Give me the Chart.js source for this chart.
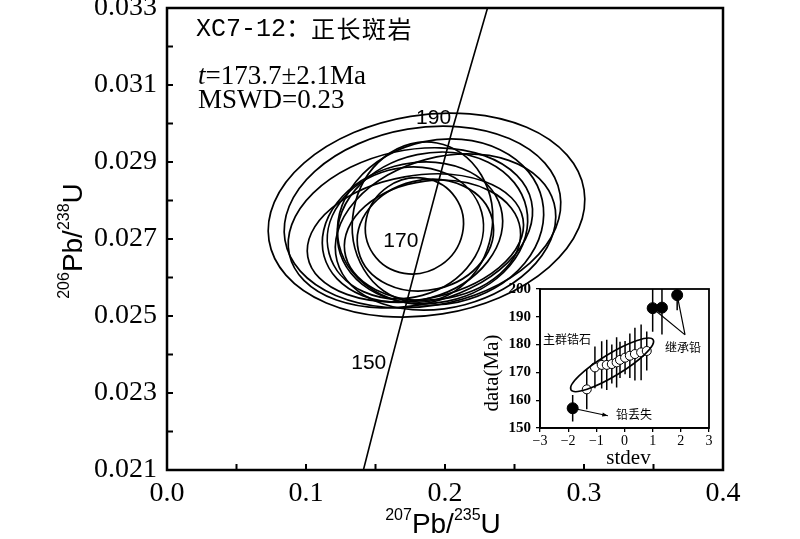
<!DOCTYPE html>
<html>
<head>
<meta charset="utf-8">
<script src="https://cdn.jsdelivr.net/npm/chart.js@4.4.1/dist/chart.umd.min.js"></script>
<style>
  html, body { margin: 0; padding: 0; background: #fff; }
  #wrap { position: relative; width: 800px; height: 539px; }
  #main { position: absolute; left: 0; top: 0; }
  #inset { position: absolute; left: 470px; top: 270px; }
</style>
</head>
<body>
<div id="wrap">
  <canvas id="main" width="800" height="539" style="width:800px;height:539px"></canvas>
  <canvas id="inset" width="250" height="205" style="width:250px;height:205px"></canvas>
</div>
<script>
// main concordia plot
const xTicks = [0.0, 0.1, 0.2, 0.3, 0.4];
const xMinorTicks = [0.05, 0.15, 0.25, 0.35];
const yTicks = [0.021, 0.023, 0.025, 0.027, 0.029, 0.031, 0.033];
const yMinorTicks = [0.022, 0.024, 0.026, 0.028, 0.030, 0.032];

// error ellipses: 207Pb/235U, sigma, 206Pb/238U, sigma, rho
const ellX    = [0.1867, 0.1838, 0.1968, 0.1751, 0.1910, 0.1766, 0.1715, 0.1838, 0.1780, 0.1859, 0.1910, 0.1787, 0.2004];
const ellSigX = [0.1139, 0.0995, 0.0742, 0.0879, 0.0685, 0.0649, 0.0562, 0.0505, 0.0353, 0.0490, 0.0634, 0.0778, 0.0793];
const ellY    = [0.02762, 0.02757, 0.02744, 0.02729, 0.02729, 0.02718, 0.02716, 0.02744, 0.02734, 0.02710, 0.02697, 0.02703, 0.02718];
const ellSigY = [0.00265, 0.00236, 0.00216, 0.00208, 0.00197, 0.00182, 0.00171, 0.00208, 0.00125, 0.00145, 0.00156, 0.00166, 0.00203];
const ellRho  = [0.15, 0.15, 0.10, 0.20, 0.10, 0.15, 0.10, 0.05, 0.05, 0.10, 0.10, 0.20, 0.20];

// concordia curve
const concordiaX = [0.1413, 0.1592, 0.1823, 0.2058, 0.2306];
const concordiaY = [0.0210, 0.02354, 0.02672, 0.02991, 0.0330];
const ageLabels = ['150', '170', '190'];
const ageX = [0.1592, 0.1823, 0.2058];
const ageY = [0.02354, 0.02672, 0.02991];

// inset: age vs stdev
const insetXTicks = [-3, -2, -1, 0, 1, 2, 3];
const insetYTicks = [150, 160, 170, 180, 190, 200];
const mainX   = [-1.34, -1.05, -0.81, -0.63, -0.45, -0.28, -0.16, 0.02, 0.19, 0.37, 0.59, 0.79];
const mainAge = [163.9, 171.8, 172.7, 172.7, 173.0, 173.6, 174.5, 175.3, 176.0, 176.6, 177.2, 177.7];
const mainErr = [7.2, 7.5, 8.5, 9.0, 7.0, 9.0, 6.5, 6.0, 8.0, 9.5, 10.0, 7.0];
const outX   = [-1.84, 1.00, 1.33, 1.87];
const outAge = [157.1, 193.1, 193.3, 197.8];
const outErr = [4.8, 8.5, 9.7, 5.4];
const groupEllipseX = [-1.90, 1.02];
const groupEllipseAge = [163.7, 181.7];

const SERIF = '"Liberation Serif", "Times New Roman", serif';
const SANS = '"Liberation Sans", Arial, sans-serif';
const CJK = '"Noto Sans CJK SC", sans-serif';

function noPad(s) {
  s.paddingTop = 0;
  s.paddingBottom = 0;
  s.paddingLeft = 0;
  s.paddingRight = 0;
}

function drawSupText(ctx, parts, x, y, size, supSize) {
  const widths = parts.map((p) => {
    ctx.font = `${p.sup ? supSize : size}px ${SANS}`;
    return ctx.measureText(p.t).width;
  });
  let cur = x - widths.reduce((s, w) => s + w, 0) / 2;
  ctx.textAlign = 'left';
  ctx.textBaseline = 'alphabetic';
  parts.forEach((p, i) => {
    ctx.font = `${p.sup ? supSize : size}px ${SANS}`;
    ctx.fillText(p.t, cur, p.sup ? y - size * 0.45 : y);
    cur += widths[i];
  });
}

function ellipsePath(ctx, cx, cy, a, b, r) {
  const c = r * a * b;
  const mean = (a * a + b * b) / 2;
  const diff = (a * a - b * b) / 2;
  const root = Math.sqrt(diff * diff + c * c);
  const theta = 0.5 * Math.atan2(2 * c, a * a - b * b);
  ctx.ellipse(cx, cy, Math.sqrt(mean + root), Math.sqrt(Math.max(mean - root, 0.5)), theta, 0, Math.PI * 2);
}

const mainPlugin = {
  id: 'mainDecor',
  afterDatasetsDraw(chart) {
    const { ctx, chartArea: area, scales: { x, y } } = chart;
    ctx.save();
    ctx.beginPath();
    ctx.rect(area.left, area.top, area.right - area.left, area.bottom - area.top);
    ctx.clip();
    ctx.strokeStyle = '#000';
    ctx.lineWidth = 1.7;
    ellX.forEach((_, i) => {
      const cx = x.getPixelForValue(ellX[i]);
      const cy = y.getPixelForValue(ellY[i]);
      const a = Math.abs(x.getPixelForValue(ellX[i] + ellSigX[i]) - cx);
      const b = Math.abs(y.getPixelForValue(ellY[i] + ellSigY[i]) - cy);
      ctx.beginPath();
      ellipsePath(ctx, cx, cy, a, b, -ellRho[i]);
      ctx.stroke();
    });
    ctx.restore();

    ctx.save();
    ctx.fillStyle = '#000';
    ctx.font = `21px ${SANS}`;
    ctx.textAlign = 'right';
    ctx.textBaseline = 'middle';
    ageLabels.forEach((lab, i) => {
      ctx.fillText(lab, x.getPixelForValue(ageX[i]) - 2, y.getPixelForValue(ageY[i]) - 9);
    });
    ctx.restore();
  },
  afterDraw(chart) {
    const { ctx, chartArea: area, scales: { x, y } } = chart;
    ctx.save();
    ctx.strokeStyle = '#000';
    ctx.lineWidth = 2.5;
    ctx.strokeRect(area.left, area.top, area.right - area.left, area.bottom - area.top);

    ctx.lineWidth = 2;
    ctx.beginPath();
    [...xTicks, ...xMinorTicks].forEach((v) => {
      const px = x.getPixelForValue(v);
      ctx.moveTo(px, area.bottom);
      ctx.lineTo(px, area.bottom - 6);
    });
    [...yTicks, ...yMinorTicks].forEach((v) => {
      const py = y.getPixelForValue(v);
      ctx.moveTo(area.left, py);
      ctx.lineTo(area.left + 6, py);
    });
    ctx.stroke();

    ctx.fillStyle = '#000';
    drawSupText(ctx, [{ t: '207', sup: true }, { t: 'Pb/' }, { t: '235', sup: true }, { t: 'U' }], 443, 533, 28, 16);
    ctx.save();
    ctx.translate(72, 241);
    ctx.rotate(-Math.PI / 2);
    drawSupText(ctx, [{ t: '206', sup: true }, { t: 'Pb/' }, { t: '238', sup: true }, { t: 'U' }], 0, 10, 28, 16);
    ctx.restore();

    ctx.textAlign = 'left';
    ctx.textBaseline = 'middle';
    ctx.font = `25px "Liberation Mono", ${CJK}`;
    ctx.fillText('XC7-12\uFF1A', 196, 29);
    const w = ctx.measureText('XC7-12\uFF1A').width;
    ctx.font = `24px ${CJK}`;
    let cx = 196 + w;
    '正长斑岩'.split('').forEach((ch) => {
      ctx.fillText(ch, cx, 29);
      cx += 25.5;
    });

    ctx.font = `italic 27px ${SERIF}`;
    ctx.fillText('t', 198, 77);
    const tw = ctx.measureText('t').width;
    ctx.font = `27px ${SERIF}`;
    ctx.fillText('=173.7\u00B12.1Ma', 198 + tw, 77);
    ctx.fillText('MSWD=0.23', 198, 101);
    ctx.restore();
  }
};

new Chart(document.getElementById('main'), {
  type: 'scatter',
  data: {
    datasets: [{
      data: concordiaX.map((v, i) => ({ x: v, y: concordiaY[i] })),
      showLine: true,
      borderColor: '#000',
      borderWidth: 1.6,
      pointRadius: 0,
      fill: false
    }]
  },
  options: {
    responsive: false,
    animation: false,
    layout: { padding: { top: 8, right: 77, left: 0, bottom: 0 } },
    plugins: { legend: { display: false }, tooltip: { enabled: false } },
    scales: {
      x: {
        type: 'linear', min: 0, max: 0.4,
        afterFit(s) { s.height = 69; noPad(s); },
        afterBuildTicks(s) { s.ticks = xTicks.map((v) => ({ value: v })); },
        ticks: { font: { family: SERIF, size: 28 }, color: '#000', padding: 7, maxRotation: 0, autoSkip: false, callback: (v) => Number(v).toFixed(1) },
        grid: { display: false, drawTicks: false },
        border: { display: false }
      },
      y: {
        type: 'linear', min: 0.021, max: 0.033,
        afterFit(s) { s.width = 167; noPad(s); },
        afterBuildTicks(s) { s.ticks = yTicks.map((v) => ({ value: v })); },
        ticks: { font: { family: SERIF, size: 28 }, color: '#000', padding: 10, autoSkip: false, callback: (v) => Number(v).toFixed(3) },
        grid: { display: false, drawTicks: false },
        border: { display: false }
      }
    }
  },
  plugins: [mainPlugin]
});

const insetPlugin = {
  id: 'insetDecor',
  beforeDatasetsDraw(chart) {
    const { ctx, chartArea: area, scales: { x, y } } = chart;
    ctx.save();
    ctx.beginPath();
    ctx.rect(area.left, area.top, area.right - area.left, area.bottom - area.top);
    ctx.clip();
    ctx.strokeStyle = '#000';
    ctx.lineWidth = 1.5;
    ctx.beginPath();
    const bars = (xs, ys, es) => xs.forEach((v, i) => {
      const px = x.getPixelForValue(v);
      ctx.moveTo(px, y.getPixelForValue(ys[i] - es[i]));
      ctx.lineTo(px, y.getPixelForValue(ys[i] + es[i]));
    });
    bars(mainX, mainAge, mainErr);
    bars(outX, outAge, outErr);
    ctx.stroke();
    ctx.restore();
  },
  afterDatasetsDraw(chart) {
    const { ctx, chartArea: area, scales: { x, y } } = chart;
    ctx.save();
    ctx.strokeStyle = '#000';
    ctx.lineWidth = 1.6;
    const x1 = x.getPixelForValue(groupEllipseX[0]);
    const y1 = y.getPixelForValue(groupEllipseAge[0]);
    const x2 = x.getPixelForValue(groupEllipseX[1]);
    const y2 = y.getPixelForValue(groupEllipseAge[1]);
    ctx.beginPath();
    ctx.ellipse((x1 + x2) / 2, (y1 + y2) / 2, Math.hypot(x2 - x1, y2 - y1) / 2, 11, Math.atan2(y2 - y1, x2 - x1), 0, Math.PI * 2);
    ctx.stroke();

    // pointer lines
    ctx.lineWidth = 1.2;
    const hub = { x: x.getPixelForValue(2.15), y: y.getPixelForValue(183.5) };
    ctx.beginPath();
    [1, 3].forEach((i) => {
      ctx.moveTo(x.getPixelForValue(outX[i]), y.getPixelForValue(outAge[i]));
      ctx.lineTo(hub.x, hub.y);
    });
    const ax0 = x.getPixelForValue(outX[0]), ay0 = y.getPixelForValue(outAge[0]);
    const ax1 = x.getPixelForValue(-0.59), ay1 = y.getPixelForValue(154.4);
    ctx.moveTo(ax0, ay0);
    ctx.lineTo(ax1, ay1);
    ctx.stroke();
    const ang = Math.atan2(ay1 - ay0, ax1 - ax0);
    ctx.beginPath();
    ctx.moveTo(ax1, ay1);
    ctx.lineTo(ax1 - 6 * Math.cos(ang - 0.35), ay1 - 6 * Math.sin(ang - 0.35));
    ctx.lineTo(ax1 - 6 * Math.cos(ang + 0.35), ay1 - 6 * Math.sin(ang + 0.35));
    ctx.closePath();
    ctx.fillStyle = '#000';
    ctx.fill();

    ctx.lineWidth = 1.8;
    ctx.strokeRect(area.left, area.top, area.right - area.left, area.bottom - area.top);

    ctx.font = `12px ${CJK}`;
    ctx.textAlign = 'center';
    ctx.textBaseline = 'middle';
    ctx.fillText('主群锆石', x.getPixelForValue(-2.04), y.getPixelForValue(181.7));
    ctx.fillText('继承铅', x.getPixelForValue(2.08), y.getPixelForValue(179.1));
    ctx.fillText('铅丢失', x.getPixelForValue(0.34), y.getPixelForValue(155.0));

    ctx.font = `21px ${SERIF}`;
    ctx.fillText('stdev', (area.left + area.right) / 2 + 4, 188);
    ctx.save();
    ctx.translate(22, 103);
    ctx.rotate(-Math.PI / 2);
    ctx.fillText('data(Ma)', 0, 0);
    ctx.restore();
    ctx.restore();
  }
};

new Chart(document.getElementById('inset'), {
  type: 'scatter',
  data: {
    datasets: [
      {
        data: mainX.map((v, i) => ({ x: v, y: mainAge[i] })),
        pointStyle: 'circle', pointRadius: 4.5,
        backgroundColor: '#fff', borderColor: '#000', borderWidth: 1
      },
      {
        data: outX.map((v, i) => ({ x: v, y: outAge[i] })),
        pointStyle: 'circle', pointRadius: 5.5,
        backgroundColor: '#000', borderColor: '#000', borderWidth: 1
      }
    ]
  },
  options: {
    responsive: false,
    animation: false,
    layout: { padding: { top: 19, right: 11, left: 0, bottom: 0 } },
    plugins: { legend: { display: false }, tooltip: { enabled: false } },
    scales: {
      x: {
        type: 'linear', min: -3, max: 3,
        afterFit(s) { s.height = 47; noPad(s); },
        afterBuildTicks(s) { s.ticks = insetXTicks.map((v) => ({ value: v })); },
        ticks: { font: { family: SERIF, size: 14 }, color: '#000', padding: 1, maxRotation: 0, autoSkip: false,
          callback: (v) => (v < 0 ? '\u2212' + Math.abs(v) : String(v)) },
        grid: { display: true, drawOnChartArea: false, drawTicks: true, tickLength: 4, color: '#000', lineWidth: 1.3 },
        border: { display: true, color: '#000', width: 1.8 }
      },
      y: {
        type: 'linear', min: 150, max: 200,
        afterFit(s) { s.width = 70; noPad(s); },
        afterBuildTicks(s) { s.ticks = insetYTicks.map((v) => ({ value: v })); },
        ticks: { font: { family: SERIF, size: 15, weight: 'bold' }, color: '#000', padding: 5, autoSkip: false },
        grid: { display: true, drawOnChartArea: false, drawTicks: true, tickLength: 4, color: '#000', lineWidth: 1.3 },
        border: { display: true, color: '#000', width: 1.8 }
      }
    }
  },
  plugins: [insetPlugin]
});
</script>
</body>
</html>
